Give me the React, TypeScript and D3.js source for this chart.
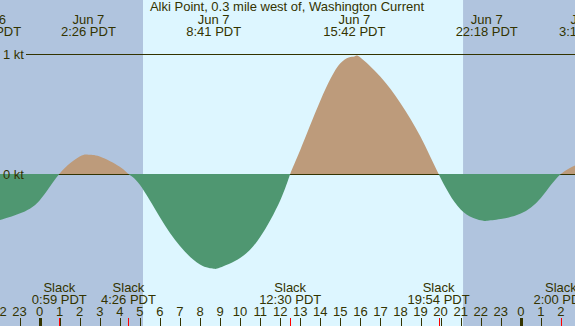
import React from "react";
import * as d3 from "d3";

// Hours are measured from Jun 7 00:00 PDT
const hours = [-3, -2, -1, 0, 1, 2, 3, 4, 5, 6, 7, 8, 9, 10, 11, 12, 13, 14, 15, 16, 17, 18, 19, 20, 21, 22, 23, 24, 25, 26, 27, 28];
const speeds = [-0.37, -0.385, -0.33, -0.22, 0.0, 0.145, 0.145, 0.06, -0.09, -0.36, -0.6, -0.755, -0.78, -0.7, -0.525, -0.22, 0.2, 0.61, 0.923, 0.97, 0.81, 0.59, 0.31, -0.03, -0.295, -0.385, -0.375, -0.33, -0.2, 0.0, 0.09, 0.08];

const slackTimes = [0.983, 4.433, 12.5, 19.9, 26.0];
const slackLabels = ["0:59 PDT", "4:26 PDT", "12:30 PDT", "19:54 PDT", "2:00 PDT"];

const maxTimes = [-2.47, 2.433, 8.683, 15.7, 22.3, 27.27];
const maxSpeeds = [-0.39, 0.16, -0.79, 0.98, -0.39, 0.1];
const maxDates = ["Jun 6", "Jun 7", "Jun 7", "Jun 7", "Jun 7", "Jun 8"];
const maxTimeLabels = ["21:32 PDT", "2:26 PDT", "8:41 PDT", "15:42 PDT", "22:18 PDT", "3:16 PDT"];

const sunrise = 5.157;
const sunset = 21.12;

const yTicks = [0, 1];
const title = "Alki Point, 0.3 mile west of, Washington Current";

const W = 575;
const H = 326;
const FONT = "'Liberation Sans', Arial, sans-serif";
const TEXT = "#333300";

export default function App() {
  const x = d3.scaleLinear().domain([-1.975, 26.703]).range([0, W]);
  const y = d3.scaleLinear().domain([0, 1]).range([174, 54]);

  // merge events with hourly readings
  const events = [
    ...slackTimes.map((t) => ({ t, v: 0 })),
    ...maxTimes.map((t, i) => ({ t, v: maxSpeeds[i] })),
  ];
  const pts = [
    ...events,
    ...hours
      .map((t, i) => ({ t, v: speeds[i] }))
      .filter((p) => !events.some((e) => Math.abs(e.t - p.t) < 0.2)),
  ].sort((a, b) => a.t - b.t);

  const area = d3
    .area<{ t: number; v: number }>()
    .x((d) => x(d.t))
    .y0(y(0))
    .y1((d) => y(d.v))
    .curve(d3.curveNatural);
  const areaPath = area(pts) || "";

  const tickHours = d3.range(-2, 28);

  return (
    <svg
      width={W}
      height={H}
      style={{ position: "absolute", left: 0, top: 0, display: "block" }}
      fontFamily={FONT}
      fontSize={13}
    >
      <defs>
        <clipPath id="above">
          <rect x={0} y={0} width={W} height={y(0)} />
        </clipPath>
        <clipPath id="below">
          <rect x={0} y={y(0)} width={W} height={H - y(0)} />
        </clipPath>
      </defs>
      {/* night / day backgrounds */}
      <rect x={0} y={0} width={W} height={H} fill="#b0c4de" />
      <rect x={x(sunrise)} y={0} width={x(sunset) - x(sunrise)} height={H} fill="#ddf6ff" />

      {/* reference lines */}
      {yTicks.map((v) => (
        <line key={v} x1={26} x2={W} y1={y(v) + 0.5} y2={y(v) + 0.5} stroke="#333300" strokeWidth={1} />
      ))}

      {/* flood and ebb fills */}
      <path d={areaPath} fill="#bd9b7b" clipPath="url(#above)" />
      <path d={areaPath} fill="#4f9771" clipPath="url(#below)" />

      {/* y labels */}
      {yTicks.map((v) => (
        <text key={v} x={3} y={y(v) + 4.5} fill={TEXT}>
          {v} kt
        </text>
      ))}

      {/* title */}
      <text x={287} y={11} textAnchor="middle" fill={TEXT}>
        {title}
      </text>

      {/* max labels */}
      {maxTimes.map((t, i) => (
        <g key={i}>
          <text x={x(t)} y={24} textAnchor="middle" fill={TEXT}>
            {maxDates[i]}
          </text>
          <text x={x(t)} y={36} textAnchor="middle" fill={TEXT}>
            {maxTimeLabels[i]}
          </text>
        </g>
      ))}

      {/* slack labels */}
      {slackTimes.map((t, i) => (
        <g key={i}>
          <text x={x(t)} y={292} textAnchor="middle" fill={TEXT}>
            Slack
          </text>
          <text x={x(t)} y={304} textAnchor="middle" fill={TEXT}>
            {slackLabels[i]}
          </text>
        </g>
      ))}

      {/* hour ticks and labels */}
      {tickHours.map((h) => {
        const lbl = ((h % 24) + 24) % 24;
        const px = Math.round(x(h)) + 0.5;
        return (
          <g key={h}>
            <text x={x(h)} y={316} textAnchor="middle" fill={TEXT}>
              {lbl}
            </text>
            <line
              x1={px}
              x2={px}
              y1={318}
              y2={H}
              stroke="#333300"
              strokeWidth={lbl === 0 ? 3 : 1}
            />
          </g>
        );
      })}
      {slackTimes.map((t, i) => {
        const px = Math.round(x(t)) + 0.5;
        return <line key={"s" + i} x1={px} x2={px} y1={318} y2={H} stroke="#ff0000" strokeWidth={1} />;
      })}
    </svg>
  );
}
